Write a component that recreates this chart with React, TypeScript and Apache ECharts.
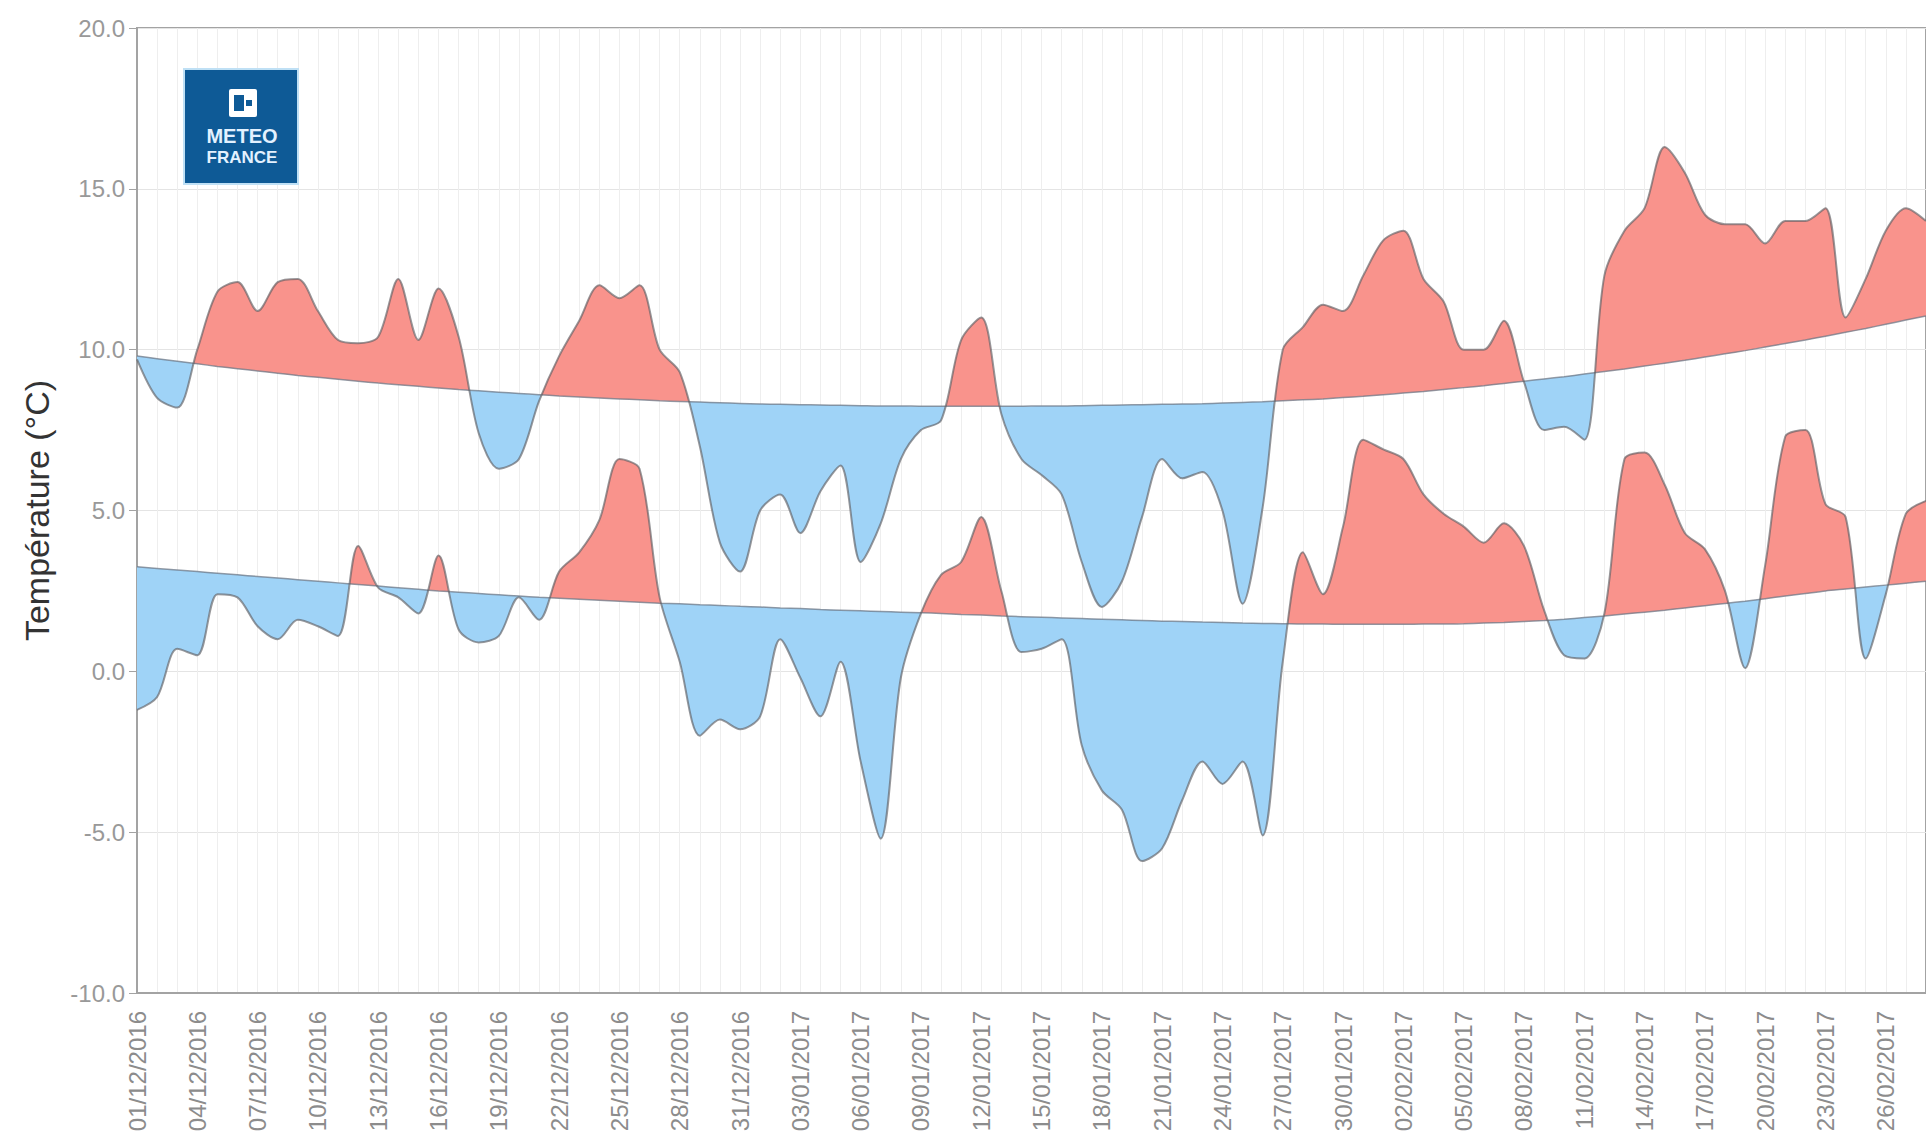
import React, { useEffect, useRef } from "react";
import * as echarts from "echarts";

const dates: string[] = [
  "01/12/2016","02/12/2016","03/12/2016","04/12/2016","05/12/2016","06/12/2016","07/12/2016","08/12/2016","09/12/2016","10/12/2016",
  "11/12/2016","12/12/2016","13/12/2016","14/12/2016","15/12/2016","16/12/2016","17/12/2016","18/12/2016","19/12/2016","20/12/2016",
  "21/12/2016","22/12/2016","23/12/2016","24/12/2016","25/12/2016","26/12/2016","27/12/2016","28/12/2016","29/12/2016","30/12/2016",
  "31/12/2016","01/01/2017","02/01/2017","03/01/2017","04/01/2017","05/01/2017","06/01/2017","07/01/2017","08/01/2017","09/01/2017",
  "10/01/2017","11/01/2017","12/01/2017","13/01/2017","14/01/2017","15/01/2017","16/01/2017","17/01/2017","18/01/2017","19/01/2017",
  "20/01/2017","21/01/2017","22/01/2017","23/01/2017","24/01/2017","25/01/2017","26/01/2017","27/01/2017","28/01/2017","29/01/2017",
  "30/01/2017","31/01/2017","01/02/2017","02/02/2017","03/02/2017","04/02/2017","05/02/2017","06/02/2017","07/02/2017","08/02/2017",
  "09/02/2017","10/02/2017","11/02/2017","12/02/2017","13/02/2017","14/02/2017","15/02/2017","16/02/2017","17/02/2017","18/02/2017",
  "19/02/2017","20/02/2017","21/02/2017","22/02/2017","23/02/2017","24/02/2017","25/02/2017","26/02/2017","27/02/2017","28/02/2017",
];

const maxTemp: number[] = [
  9.7, 8.5, 8.2, 10.0, 11.8, 12.1, 11.2, 12.1, 12.2, 11.2,
  10.3, 10.2, 10.4, 12.2, 10.3, 11.9, 10.4, 7.4, 6.3, 6.6,
  8.4, 9.8, 10.9, 12.0, 11.6, 12.0, 10.0, 9.3, 7.0, 4.0,
  3.1, 5.0, 5.5, 4.3, 5.6, 6.4, 3.4, 4.6, 6.6, 7.5,
  7.8, 10.3, 11.0, 8.0, 6.6, 6.1, 5.5, 3.4, 2.0, 2.8,
  4.8, 6.6, 6.0, 6.2, 5.0, 2.1, 5.1, 10.0, 10.7, 11.4,
  11.2, 12.3, 13.4, 13.7, 12.2, 11.5, 10.0, 10.0, 10.9, 9.0,
  7.5, 7.6, 7.2, 12.3, 13.7, 14.4, 16.3, 15.5, 14.2, 13.9,
  13.9, 13.3, 14.0, 14.0, 14.4, 11.0, 12.2, 13.7, 14.4, 14.0,
];

const maxNormal: number[] = [
  9.8, 9.72, 9.64, 9.56, 9.48, 9.41, 9.34, 9.27, 9.2, 9.14,
  9.08, 9.02, 8.96, 8.91, 8.86, 8.81, 8.76, 8.72, 8.68, 8.64,
  8.6, 8.56, 8.53, 8.5, 8.47, 8.44, 8.41, 8.39, 8.37, 8.35,
  8.33, 8.31, 8.3, 8.29, 8.28, 8.27, 8.26, 8.25, 8.25, 8.24,
  8.24, 8.24, 8.24, 8.24, 8.24, 8.25, 8.25, 8.26, 8.27, 8.28,
  8.29, 8.3, 8.31, 8.32, 8.34, 8.36, 8.38, 8.41, 8.44, 8.47,
  8.51, 8.55, 8.6, 8.65, 8.7, 8.76, 8.82, 8.88, 8.95, 9.02,
  9.09, 9.16, 9.24, 9.32, 9.4, 9.49, 9.58, 9.67, 9.77, 9.87,
  9.97, 10.08, 10.19, 10.3, 10.42, 10.54, 10.66, 10.79, 10.92, 11.05,
];

const minTemp: number[] = [
  -1.2, -0.8, 0.7, 0.5, 2.4, 2.3, 1.4, 1.0, 1.6, 1.4,
  1.1, 3.9, 2.6, 2.3, 1.8, 3.6, 1.3, 0.9, 1.1, 2.3,
  1.6, 3.1, 3.7, 4.7, 6.6, 6.3, 2.3, 0.3, -2.0, -1.5,
  -1.8, -1.4, 1.0, -0.2, -1.4, 0.3, -2.8, -5.2, -0.2, 1.8,
  3.0, 3.4, 4.8, 2.5, 0.6, 0.7, 1.0, -2.3, -3.7, -4.3,
  -5.9, -5.5, -4.0, -2.8, -3.5, -2.8, -5.1, 0.3, 3.7, 2.4,
  4.5, 7.2, 6.9, 6.6, 5.5, 4.9, 4.5, 4.0, 4.6, 3.9,
  1.9, 0.5, 0.4, 1.8, 6.6, 6.8, 5.8, 4.3, 3.8, 2.5,
  0.1, 3.3, 7.3, 7.5, 5.2, 4.8, 0.4, 2.4, 4.9, 5.3,
];

const minNormal: number[] = [
  3.25, 3.2, 3.15, 3.1, 3.05, 3.0, 2.95, 2.9, 2.85, 2.8,
  2.75, 2.7, 2.65, 2.6, 2.55, 2.5, 2.46, 2.42, 2.38, 2.34,
  2.3, 2.27, 2.24, 2.21, 2.18, 2.15, 2.12, 2.1, 2.07, 2.05,
  2.02, 2.0, 1.97, 1.95, 1.92, 1.9, 1.88, 1.86, 1.84, 1.82,
  1.8, 1.77, 1.75, 1.72, 1.7, 1.68, 1.66, 1.64, 1.62, 1.6,
  1.58, 1.56, 1.55, 1.53, 1.52, 1.5, 1.49, 1.48, 1.47, 1.47,
  1.46, 1.46, 1.46, 1.46, 1.47, 1.47, 1.48, 1.5, 1.52, 1.55,
  1.58, 1.62, 1.67, 1.72, 1.78, 1.84, 1.9, 1.97, 2.04, 2.11,
  2.18, 2.26, 2.34, 2.42, 2.5, 2.56, 2.62, 2.68, 2.74, 2.8,
];

const RED = "#f9938c";
const BLUE = "#9fd3f7";
const SMOOTH = 0.3;
const FONT = "Liberation Sans, Arial, sans-serif";

type Piece = { gte: number; lt: number; color: string };

// [day index, value] for plain lines
const pairs = (vals: number[]) => vals.map((v, i) => [i, v]);
// [value, day index] for stacked fills (value column first so it is the stacked one)
const valueFirst = (vals: number[]) => vals.map((v, i) => [v, i]);

function piecesFrom(firstAbove: boolean, crossings: number[], n: number): Piece[] {
  const pieces: Piece[] = [];
  let start = -1;
  let above = firstAbove;
  for (const c of crossings) {
    pieces.push({ gte: start, lt: c, color: above ? RED : BLUE });
    start = c;
    above = !above;
  }
  pieces.push({ gte: start, lt: n + 1, color: above ? RED : BLUE });
  return pieces;
}

function linearPieces(actual: number[], normal: number[]): Piece[] {
  const diff = actual.map((v, i) => v - normal[i]);
  const cross: number[] = [];
  for (let i = 0; i < diff.length - 1; i++) {
    if ((diff[i] >= 0) !== (diff[i + 1] >= 0)) cross.push(i + diff[i] / (diff[i] - diff[i + 1]));
  }
  return piecesFrom(diff[0] >= 0, cross, diff.length);
}

// Same bezier construction ECharts uses for smooth lines.
function smoothSegments(pts: number[][], smooth: number): number[][] {
  const segs: number[][] = [];
  const n = pts.length;
  let prevX = pts[0][0];
  let prevY = pts[0][1];
  let cpx0 = prevX;
  let cpy0 = prevY;
  for (let idx = 1; idx < n; idx++) {
    const x = pts[idx][0];
    const y = pts[idx][1];
    let cpx1: number, cpy1: number;
    let nextCpx0 = x;
    let nextCpy0 = y;
    if (idx + 1 >= n) {
      cpx1 = x;
      cpy1 = y;
    } else {
      const nextX = pts[idx + 1][0];
      const nextY = pts[idx + 1][1];
      let vx = nextX - prevX;
      let vy = nextY - prevY;
      const dx0 = x - prevX, dx1 = nextX - x, dy0 = y - prevY, dy1 = nextY - y;
      const lenPrev = Math.sqrt(dx0 * dx0 + dy0 * dy0);
      const lenNext = Math.sqrt(dx1 * dx1 + dy1 * dy1);
      const ratio = lenNext / (lenNext + lenPrev);
      nextCpx0 = x + vx * smooth * ratio;
      nextCpy0 = y + vy * smooth * ratio;
      nextCpx0 = Math.min(nextCpx0, Math.max(nextX, x));
      nextCpy0 = Math.min(nextCpy0, Math.max(nextY, y));
      nextCpx0 = Math.max(nextCpx0, Math.min(nextX, x));
      nextCpy0 = Math.max(nextCpy0, Math.min(nextY, y));
      vx = nextCpx0 - x;
      vy = nextCpy0 - y;
      cpx1 = x - (vx * lenPrev) / lenNext;
      cpy1 = y - (vy * lenPrev) / lenNext;
      cpx1 = Math.min(cpx1, Math.max(prevX, x));
      cpy1 = Math.min(cpy1, Math.max(prevY, y));
      cpx1 = Math.max(cpx1, Math.min(prevX, x));
      cpy1 = Math.max(cpy1, Math.min(prevY, y));
      vx = x - cpx1;
      vy = y - cpy1;
      nextCpx0 = x + (vx * lenNext) / lenPrev;
      nextCpy0 = y + (vy * lenNext) / lenPrev;
    }
    segs.push([prevX, prevY, cpx0, cpy0, cpx1, cpy1, x, y]);
    cpx0 = nextCpx0;
    cpy0 = nextCpy0;
    prevX = x;
    prevY = y;
  }
  return segs;
}

function sampleCurve(segs: number[][], steps: number): number[][] {
  const out: number[][] = [];
  segs.forEach((s, si) => {
    for (let k = si === 0 ? 0 : 1; k <= steps; k++) {
      const t = k / steps;
      const u = 1 - t;
      const a = u * u * u, b = 3 * u * u * t, c = 3 * u * t * t, d = t * t * t;
      out.push([a * s[0] + b * s[2] + c * s[4] + d * s[6], a * s[1] + b * s[3] + c * s[5] + d * s[7]]);
    }
  });
  return out;
}

// Where the smoothed actual curve crosses the smoothed normal curve.
function curvePieces(chart: any, actual: number[], normal: number[]): Piece[] {
  const toPx = (i: number, v: number) => chart.convertToPixel({ xAxisIndex: 0, yAxisIndex: 0 }, [i, v]);
  const pa = actual.map((v, i) => toPx(i, v));
  const pn = normal.map((v, i) => toPx(i, v));
  const x0 = pa[0][0];
  const step = pa[1][0] - pa[0][0];
  const sa = sampleCurve(smoothSegments(pa, SMOOTH), 120);
  const sn = sampleCurve(smoothSegments(pn, SMOOTH), 120);
  let j = 0;
  const yn = (x: number) => {
    while (j < sn.length - 2 && sn[j + 1][0] < x) j++;
    const p = sn[j], q = sn[j + 1];
    const t = q[0] === p[0] ? 0 : (x - p[0]) / (q[0] - p[0]);
    return p[1] + (q[1] - p[1]) * Math.max(0, Math.min(1, t));
  };
  const diffs = sa.map((p) => yn(p[0]) - p[1]);
  const cross: number[] = [];
  for (let k = 0; k < sa.length - 1; k++) {
    if ((diffs[k] >= 0) !== (diffs[k + 1] >= 0)) {
      const t = diffs[k] / (diffs[k] - diffs[k + 1]);
      const px = sa[k][0] + (sa[k + 1][0] - sa[k][0]) * t;
      cross.push((px - x0) / step);
    }
  }
  return piecesFrom(diffs[0] >= 0, cross, actual.length);
}

function fillSeries(name: string, actual: number[], normal: number[]) {
  const common = {
    type: "line",
    stack: name,
    stackStrategy: "all",
    smooth: SMOOTH,
    symbol: "none",
    silent: true,
    z: 1,
    encode: { x: 1, y: 0 },
    lineStyle: { width: 0, opacity: 0 },
  };
  return [
    { ...common, name: name + "-base", data: valueFirst(normal) },
    {
      ...common,
      name: name + "-delta",
      data: valueFirst(actual.map((v, i) => v - normal[i])),
      areaStyle: { opacity: 1 },
    },
  ];
}

export default function App() {
  const ref = useRef<HTMLDivElement>(null);
  useEffect(() => {
    const chart = echarts.init(ref.current!, null, { renderer: "svg" });
    const lineCommon = { type: "line", smooth: SMOOTH, symbol: "none", silent: true, z: 3 };
    const series = [
      ...fillSeries("max", maxTemp, maxNormal), // 0, 1
      ...fillSeries("min", minTemp, minNormal), // 2, 3
      { ...lineCommon, name: "maxNormal", data: pairs(maxNormal), lineStyle: { color: "rgba(110,120,135,0.75)", width: 1.5 } },
      { ...lineCommon, name: "minNormal", data: pairs(minNormal), lineStyle: { color: "rgba(110,120,135,0.75)", width: 1.5 } },
      { ...lineCommon, name: "maxTemp", data: pairs(maxTemp), lineStyle: { color: "rgba(95,95,100,0.65)", width: 2 } },
      { ...lineCommon, name: "minTemp", data: pairs(minTemp), lineStyle: { color: "rgba(95,95,100,0.65)", width: 2 } },
    ];
    chart.setOption({
      animation: false,
      backgroundColor: "#ffffff",
      textStyle: { fontFamily: FONT },
      grid: {
        left: 137,
        right: -5,
        top: 28,
        bottom: 146,
        show: true,
        borderColor: "#a3a3a3",
        borderWidth: 2,
        backgroundColor: "transparent",
      },
      visualMap: [
        {
          type: "piecewise",
          show: false,
          dimension: 1,
          seriesIndex: 1,
          pieces: linearPieces(maxTemp, maxNormal),
          outOfRange: { color: RED },
        },
        {
          type: "piecewise",
          show: false,
          dimension: 1,
          seriesIndex: 3,
          pieces: linearPieces(minTemp, minNormal),
          outOfRange: { color: RED },
        },
      ],
      xAxis: {
        type: "value",
        min: 0,
        max: dates.length - 1,
        interval: 3,
        axisLine: { show: true, onZero: false, lineStyle: { color: "#a3a3a3", width: 2 } },
        axisTick: { show: false },
        minorTick: { show: false, splitNumber: 3 },
        axisLabel: {
          rotate: 90,
          margin: 18,
          color: "#8c8c8c",
          fontSize: 24,
          fontFamily: FONT,
          showMaxLabel: false,
          formatter: (v: number) => (Number.isInteger(v) && v % 3 === 0 && dates[v] ? dates[v] : ""),
        },
        splitLine: { show: true, lineStyle: { color: "#eeeeee", width: 1 } },
        minorSplitLine: { show: true, lineStyle: { color: "#eeeeee", width: 1 } },
      },
      yAxis: {
        type: "value",
        min: -10,
        max: 20,
        interval: 5,
        name: "Température (°C)",
        nameLocation: "middle",
        nameGap: 83,
        nameTextStyle: { fontSize: 34, color: "#333333", fontFamily: FONT },
        axisLine: { show: true, onZero: false, lineStyle: { color: "#a3a3a3", width: 2 } },
        axisTick: { show: true, length: 8, lineStyle: { color: "#a3a3a3" } },
        axisLabel: {
          margin: 12,
          color: "#999999",
          fontSize: 24,
          fontFamily: FONT,
          formatter: (v: number) => v.toFixed(1),
        },
        splitLine: { show: true, lineStyle: { color: "#e4e4e4", width: 1 } },
      },
      series,
      graphic: [
        {
          type: "rect",
          z: 10,
          shape: { x: 184, y: 69, width: 114, height: 115 },
          style: { fill: "#0e5a96", stroke: "#bfe0f5", lineWidth: 2 },
        },
        {
          type: "rect",
          z: 11,
          shape: { x: 229, y: 89, width: 28, height: 28, r: 2 },
          style: { fill: "#ffffff" },
        },
        {
          type: "rect",
          z: 12,
          shape: { x: 234, y: 95, width: 10, height: 16 },
          style: { fill: "#0e5a96" },
        },
        {
          type: "rect",
          z: 12,
          shape: { x: 246, y: 100, width: 6, height: 6 },
          style: { fill: "#0e5a96" },
        },
        {
          type: "text",
          z: 12,
          style: {
            text: "METEO",
            x: 242,
            y: 136,
            fill: "#e3f1ff",
            font: "bold 20px " + FONT,
            align: "center",
            verticalAlign: "middle",
          },
        },
        {
          type: "text",
          z: 12,
          style: {
            text: "FRANCE",
            x: 242,
            y: 157,
            fill: "#e3f1ff",
            font: "bold 17px " + FONT,
            align: "center",
            verticalAlign: "middle",
          },
        },
      ],
    });
    try {
      const pMax = curvePieces(chart, maxTemp, maxNormal);
      const pMin = curvePieces(chart, minTemp, minNormal);
      chart.setOption({ visualMap: [{ pieces: pMax }, { pieces: pMin }] });
    } catch (e) {
      // keep the straight-line split if anything goes wrong
    }
    return () => chart.dispose();
  }, []);
  return (
    <div
      ref={ref}
      style={{ position: "fixed", left: 0, top: 0, width: 1926, height: 1139, background: "#ffffff" }}
    />
  );
}
